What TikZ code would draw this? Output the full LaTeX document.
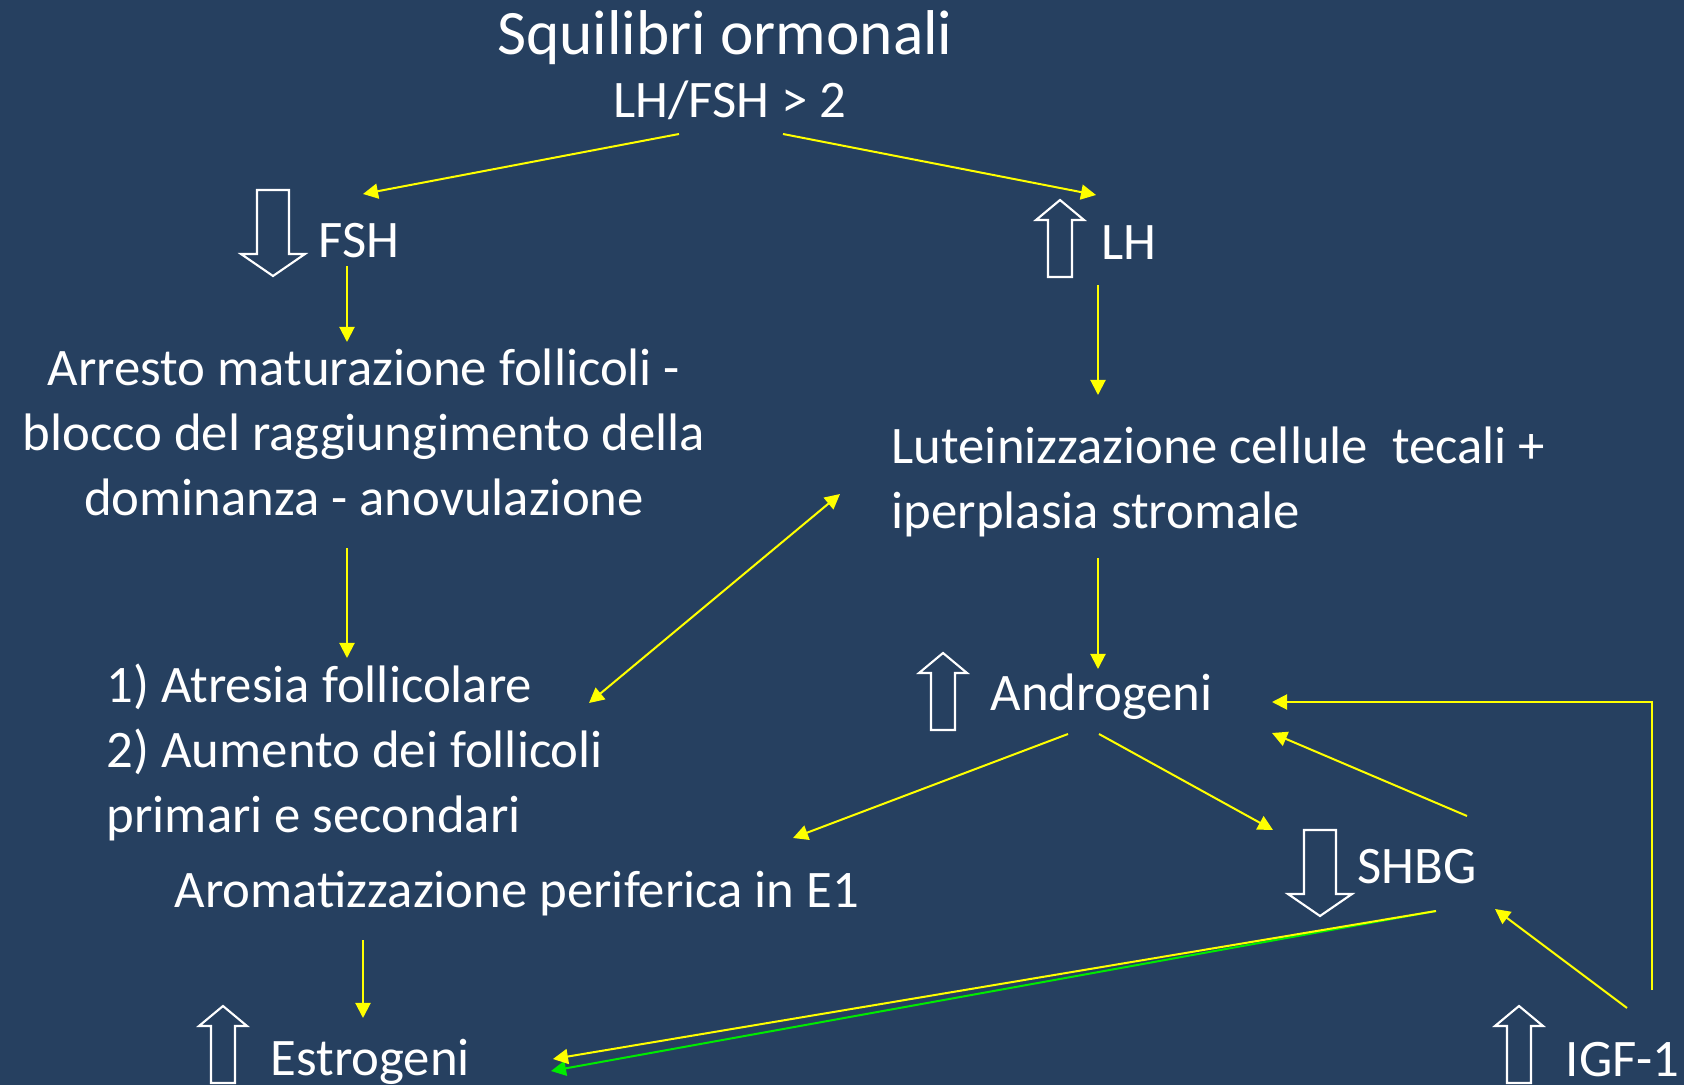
\documentclass[tikz,border=0pt]{standalone}
\usepackage{fontspec}
\setmainfont{Carlito}
\usepackage{xcolor}
\usetikzlibrary{arrows.meta}
\definecolor{slideblue}{RGB}{38,64,96}
\definecolor{hotyellow}{RGB}{255,255,0}
\definecolor{hotgreen}{RGB}{0,235,0}
\tikzset{
  >={Triangle[length=0.15cm,width=0.15cm]},
  txt/.style={text=white, inner sep=0pt, font=\fontsize{15}{18.4}\selectfont},
  link/.style={->, draw=hotyellow, line width=0.57pt},
  hollow/.style={draw=white, line width=0.6pt}
}
\begin{document}
\begin{tikzpicture}[x=0.01cm,y=-0.01cm]
\fill[slideblue] (0,0) rectangle (1684,1085);
\useasboundingbox (0,0) rectangle (1684,1085);

\node[txt, font=\fontsize{18}{21}\selectfont, anchor=base] (title) at (725,55) {Squilibri ormonali};
\node[txt, anchor=base] (ratio) at (730,118) {LH/FSH > 2};
\node[txt, anchor=base west] (fsh) at (318,258) {FSH};
\node[txt, anchor=base west] (lh) at (1101,260) {LH};
\node[txt, anchor=base, align=center] (arresto) at (364,515) {Arresto maturazione follicoli -\\blocco del raggiungimento della\\dominanza - anovulazione};
\node[txt, anchor=base west, align=left] (lutein) at (891,528) {Luteinizzazione cellule\ \ tecali +\\iperplasia stromale};
\node[txt, anchor=base west, align=left] (atresia) at (106,832) {1) Atresia follicolare\\2) Aumento dei follicoli\\primari e secondari};
\node[txt, anchor=base west] (andro) at (990,710) {Androgeni};
\node[txt, anchor=base west] (shbg) at (1357,883) {SHBG};
\node[txt, anchor=base west] (aroma) at (174,907) {Aromatizzazione periferica in E1};
\node[txt, anchor=base west] (estro) at (270,1075) {Estrogeni};
\node[txt, anchor=base west] (igf) at (1565,1076) {IGF-1};

\foreach \tx/\ty in {1060/200, 943/653, 223/1006, 1519/1006}
  \draw[hollow, shift={(\tx,\ty)}] (0,0) -- (24,20) -- (12,20) -- (12,77) -- (-12,77) -- (-12,20) -- (-24,20) -- cycle;
\foreach \tx/\ty in {273/276, 1320/916}
  \draw[hollow, shift={(\tx,\ty)}] (0,0) -- (32,-22) -- (16,-22) -- (16,-86) -- (-16,-86) -- (-16,-22) -- (-32,-22) -- cycle;

\coordinate (ratio-l) at (679,134);
\coordinate (ratio-r) at (783,134);
\coordinate (fsh-in) at (363,194);
\coordinate (lh-in) at (1096,195);
\coordinate (fsh-out) at (347,266);
\coordinate (arr-in) at (347,342);
\coordinate (arr-out) at (347,548);
\coordinate (atr-in) at (347,658);
\coordinate (atr-io) at (589,703);
\coordinate (lut-io) at (840,494);
\coordinate (lh-out) at (1098,285);
\coordinate (lut-in) at (1098,395);
\coordinate (lut-out) at (1098,558);
\coordinate (and-in) at (1098,669);
\coordinate (and-l) at (1068,734);
\coordinate (aro-in) at (793,838);
\coordinate (and-r) at (1099,734);
\coordinate (shbg-in) at (1273,830);
\coordinate (shbg-up) at (1467,816);
\coordinate (and-r1) at (1272,702);
\coordinate (and-r2) at (1272,733);
\coordinate (igf-up) at (1652,990);
\coordinate (igf-out) at (1627,1008);
\coordinate (shbg-r) at (1495,909);
\coordinate (aro-out) at (363,940);
\coordinate (est-in) at (363,1018);
\coordinate (shbg-l) at (1436,911);
\coordinate (est-y) at (553,1059);
\coordinate (est-g) at (551,1071);

\draw[link] (ratio-l) -- (fsh-in);
\draw[link] (ratio-r) -- (lh-in);
\draw[link] (fsh-out) -- (arr-in);
\draw[link] (arr-out) -- (atr-in);
\draw[link, <->] (atr-io) -- (lut-io);
\draw[link] (lh-out) -- (lut-in);
\draw[link] (lut-out) -- (and-in);
\draw[link] (and-l) -- (aro-in);
\draw[link] (and-r) -- (shbg-in);
\draw[link] (shbg-up) -- (and-r2);
\draw[link] (igf-up) |- (and-r1);
\draw[link] (igf-out) -- (shbg-r);
\draw[link] (aro-out) -- (est-in);
\draw[link, draw=hotgreen, fill=hotgreen] (shbg-l) -- (est-g);
\draw[link] (shbg-l) -- (est-y);
\end{tikzpicture}
\end{document}
